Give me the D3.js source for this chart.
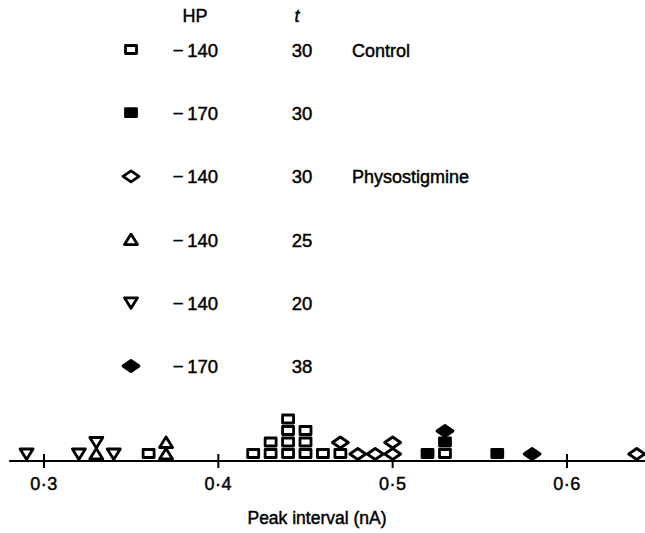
<!DOCTYPE html>
<html>
<head>
<meta charset="utf-8">
<script src="https://cdn.jsdelivr.net/npm/d3@7"></script>
<style>
  body { margin: 0; background: #fff; }
  svg { display: block; font-family: "Liberation Sans", Arial, sans-serif; }
  svg text { stroke: #000; stroke-width: 0.45px; }
</style>
</head>
<body>
<svg id="chart"></svg>
<script>
// Peak interval values, one entry per symbol, per series (legend order)
var control140 = [0.36, 0.42, 0.43, 0.43, 0.44, 0.44, 0.44, 0.44, 0.45, 0.45, 0.45, 0.46, 0.47, 0.53];
var control170 = [0.52, 0.53, 0.56];
var physo140t30 = [0.47, 0.48, 0.49, 0.50, 0.50, 0.64];
var physo140t25 = [0.33, 0.37, 0.37];
var physo140t20 = [0.29, 0.32, 0.33, 0.34];
var physo170t38 = [0.53, 0.58];

var shapes = ["square", "square", "diamond", "up", "down", "diamond"];
var filled = [false, true, false, false, false, true];
var hpLabels = ["\u2212\u2009140", "\u2212\u2009170", "\u2212\u2009140", "\u2212\u2009140", "\u2212\u2009140", "\u2212\u2009170"];
var tLabels = ["30", "30", "30", "25", "20", "38"];
var groupLabels = ["Control", "", "Physostigmine", "", "", ""];
var xTicks = [0.3, 0.4, 0.5, 0.6];

var width = 645, height = 533;
var svg = d3.select("#chart")
    .attr("width", width)
    .attr("height", height);

var x = d3.scaleLinear().domain([0.3, 0.6]).range([44, 567]);
var axisY = 461;
var step = 11.5;

var seriesValues = [control140, control170, physo140t30, physo140t25, physo140t20, physo170t38];

function symbolPath(shape) {
  if (shape === "square") return "M-5.5,-4.5 H5.5 V3.5 H-5.5 Z";
  if (shape === "diamond") return "M0,-5.5 L8,0 L0,5.5 L-8,0 Z";
  if (shape === "up") return "M0,-5.5 L6.5,5 L-6.5,5 Z";
  return "M-6.5,-5 L6.5,-5 L0,5.5 Z";
}

function drawSymbol(g, i) {
  g.append("path")
      .attr("d", symbolPath(shapes[i]))
      .attr("fill", filled[i] ? "#000" : "#fff")
      .attr("stroke", "#000")
      .attr("stroke-width", 2.8)
      .attr("stroke-linejoin", "round");
}

// stack symbols per x value, series in legend order from the bottom up
var counts = {};
var marks = [];
seriesValues.forEach(function(vals, i) {
  vals.forEach(function(v) {
    var key = v.toFixed(2);
    var level = counts[key] || 0;
    counts[key] = level + 1;
    marks.push({value: v, series: i, level: level});
  });
});

// axis line and ticks
svg.append("line")
    .attr("x1", x(0.28)).attr("x2", x(0.645))
    .attr("y1", axisY).attr("y2", axisY)
    .attr("stroke", "#000").attr("stroke-width", 2);

var tick = svg.selectAll(".tick")
    .data(xTicks)
  .enter().append("g")
    .attr("class", "tick")
    .attr("transform", function(d) { return "translate(" + x(d) + "," + axisY + ")"; });

tick.append("line")
    .attr("y1", -7).attr("y2", 7)
    .attr("stroke", "#000").attr("stroke-width", 2);

tick.append("text")
    .attr("y", 29)
    .attr("text-anchor", "middle")
    .attr("font-size", "18px")
    .attr("letter-spacing", "0.5px")
    .text(function(d) { return d3.format(".1f")(d).replace(".", "\u00b7"); });

svg.append("text")
    .attr("x", 317)
    .attr("y", 524)
    .attr("text-anchor", "middle")
    .attr("font-size", "17.5px")
    .text("Peak interval (nA)");

// data symbols
svg.selectAll(".mark")
    .data(marks)
  .enter().append("g")
    .attr("class", "mark")
    .attr("transform", function(d) { return "translate(" + x(d.value) + "," + (axisY - 7 - d.level * step) + ")"; })
    .each(function(d) { drawSymbol(d3.select(this), d.series); });

// legend
var legend = svg.append("g");

legend.append("text")
    .attr("x", 195).attr("y", 22)
    .attr("text-anchor", "middle")
    .attr("font-size", "18px")
    .text("HP");

legend.append("text")
    .attr("x", 297).attr("y", 22)
    .attr("text-anchor", "middle")
    .attr("font-size", "18px")
    .attr("font-style", "italic")
    .text("t");

var row = legend.selectAll(".row")
    .data(d3.range(shapes.length))
  .enter().append("g")
    .attr("class", "row")
    .attr("transform", function(i) { return "translate(0," + (57 + i * 63.2) + ")"; });

row.append("g")
    .attr("transform", "translate(131,-7)")
    .each(function(i) { drawSymbol(d3.select(this), i); });

row.append("text")
    .attr("x", 218)
    .attr("text-anchor", "end")
    .attr("font-size", "18.5px")
    .text(function(i) { return hpLabels[i]; });

row.append("text")
    .attr("x", 302)
    .attr("text-anchor", "middle")
    .attr("font-size", "18.5px")
    .text(function(i) { return tLabels[i]; });

row.append("text")
    .attr("x", 352)
    .attr("font-size", "18px")
    .text(function(i) { return groupLabels[i]; });
</script>
</body>
</html>
